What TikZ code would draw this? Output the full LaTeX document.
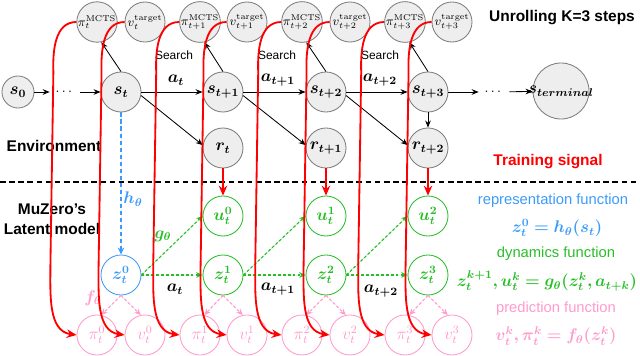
\documentclass[tikz,border=0pt]{standalone}
\usepackage{amsmath,bm}
\usepackage[no-math]{fontspec}
\setmainfont{Liberation Sans}
\usetikzlibrary{arrows.meta}
\definecolor{grn}{RGB}{40,190,40}
\definecolor{blu}{RGB}{60,155,250}
\definecolor{pnk}{RGB}{255,155,205}
\definecolor{circgray}{RGB}{238,238,238}
\definecolor{circline}{RGB}{125,125,125}
\begin{document}
\begin{tikzpicture}[x=0.025cm,y=-0.025cm,
  env/.style={circle,draw=circline,fill=circgray,line width=0.6pt,minimum size=1cm,inner sep=0pt,font=\large},
  topc/.style={env,font=\small},
  lat/.style={circle,draw=grn,fill=white,text=grn,line width=0.6pt,minimum size=1cm,inner sep=0pt,font=\large},
  repc/.style={lat,draw=blu,text=blu},
  predc/.style={lat,draw=pnk,text=pnk},
  dotsn/.style={inner sep=0pt,minimum width=0.75cm,minimum height=0.5cm},
  arr/.style={-{Stealth[length=5pt,width=4pt]},line width=0.6pt},
  sig/.style={-{Stealth[length=7pt,width=6pt]},red,line width=1.3pt},
  garr/.style={-{Stealth[length=4.5pt,width=4pt]},draw=grn,fill=grn,line width=0.8pt,dash pattern=on 2pt off 1.5pt},
  parr/.style={-{Stealth[length=4.5pt,width=4pt]},draw=pnk,fill=pnk,line width=0.8pt,dash pattern=on 2pt off 1.5pt},
  barr/.style={-{Stealth[length=5pt,width=4.5pt]},draw=blu,fill=blu,line width=1.1pt,dash pattern=on 3pt off 2pt},
  lbl/.style={font=\fontsize{11}{13}\selectfont\bfseries},
  srch/.style={font=\fontsize{8.5}{10}\selectfont},
  fn/.style={font=\fontsize{10.5}{12}\selectfont},
]
\useasboundingbox (0,0) rectangle (640,356);

% top row
\node[topc] (tp0) at (97,22)  {$\pi_t^{\mathrm{MCTS}}$};
\node[topc] (tv0) at (145,22) {$v_t^{\mathrm{target}}$};
\node[topc] (tp1) at (200,22) {$\pi_{t+1}^{\mathrm{MCTS}}$};
\node[topc] (tv1) at (247,22) {$v_{t+1}^{\mathrm{target}}$};
\node[topc] (tp2) at (302,22) {$\pi_{t+2}^{\mathrm{MCTS}}$};
\node[topc] (tv2) at (350,22) {$v_{t+2}^{\mathrm{target}}$};
\node[topc] (tp3) at (405,22) {$\pi_{t+3}^{\mathrm{MCTS}}$};
\node[topc] (tv3) at (452,22) {$v_{t+3}^{\mathrm{target}}$};

% environment row
\node[env,minimum size=0.8cm] (s0) at (18,92) {$\boldsymbol{s_0}$};
\node[dotsn] (d1) at (65,92) {$\dots$};
\node[env] (st) at (121,92) {$\boldsymbol{s_t}$};
\node[env] (s1) at (223,92) {$\boldsymbol{s_{t+1}}$};
\node[env] (s2) at (326,92) {$\boldsymbol{s_{t+2}}$};
\node[env] (s3) at (428,92) {$\boldsymbol{s_{t+3}}$};
\node[dotsn] (d2) at (494,92) {$\dots$};
\node[env,minimum size=1.4cm] (sT) at (561,91) {\makebox[0pt]{$\boldsymbol{s_{terminal}}$}};

\node[env] (r0) at (223,148) {$\boldsymbol{r_t}$};
\node[env] (r1) at (326,148) {$\boldsymbol{r_{t+1}}$};
\node[env] (r2) at (428,148) {$\boldsymbol{r_{t+2}}$};

% environment arrows
\draw[arr] (s0) -- (d1);
\draw[arr] (d1) -- (st);
\draw[arr] (st) -- (s1);
\draw[arr] (s1) -- (s2);
\draw[arr] (s2) -- (s3);
\draw[arr] (s3) -- (d2);
\draw[arr] (d2) -- (sT);
\draw[arr] (st.north) -- (tp0.-78);
\draw[arr] (s1.north) -- (tp1.-78);
\draw[arr] (s2.north) -- (tp2.-78);
\draw[arr] (s3.north) -- (tp3.-78);
\draw[arr] (st.-10) -- (r0.172);
\draw[arr] (s1.-10) -- (r1.172);
\draw[arr] (s2.-10) -- (r2.172);
\draw[arr] (s3) -- (r2);

\node[srch] (se0) at (174,55) {Search};
\node[srch] (se1) at (277,55) {Search};
\node[srch] (se2) at (380,55) {Search};
\node[font=\large] (a0) at (176,80) {$\boldsymbol{a_t}$};
\node[font=\large] (a1) at (278,80) {$\boldsymbol{a_{t+1}}$};
\node[font=\large] (a2) at (380,80) {$\boldsymbol{a_{t+2}}$};

\node[lbl] (envl) at (54,146) {Environment};
\node[lbl] (unr) at (562,18) {Unrolling K=3 steps};
\node[lbl,text=red] (trs) at (548,162) {Training signal};

% separator
\coordinate (sepl) at (0,182);
\coordinate (sepr) at (640,182);
\draw[line width=1pt,dash pattern=on 4pt off 2.5pt] (sepl) -- (sepr);

\node[lbl] (mz1) at (52,209) {MuZero's};
\node[lbl] (mz2) at (52,229) {Latent model};

% latent model
\node[lat] (u0) at (223,216) {$\boldsymbol{u_t^0}$};
\node[lat] (u1) at (326,216) {$\boldsymbol{u_t^1}$};
\node[lat] (u2) at (428,216) {$\boldsymbol{u_t^2}$};
\node[repc] (z0) at (121,275) {$\boldsymbol{z_t^0}$};
\node[lat] (z1) at (223,275) {$\boldsymbol{z_t^1}$};
\node[lat] (z2) at (326,275) {$\boldsymbol{z_t^2}$};
\node[lat] (z3) at (428,275) {$\boldsymbol{z_t^3}$};

\node[predc] (bp0) at (97,335)  {$\pi_t^0$};
\node[predc] (bv0) at (145,335) {$v_t^0$};
\node[predc] (bp1) at (200,335) {$\pi_t^1$};
\node[predc] (bv1) at (247,335) {$v_t^1$};
\node[predc] (bp2) at (302,335) {$\pi_t^2$};
\node[predc] (bv2) at (350,335) {$v_t^2$};
\node[predc] (bp3) at (405,335) {$\pi_t^3$};
\node[predc] (bv3) at (452,335) {$v_t^3$};

\draw[barr] (st) -- (z0);
\node[text=blu,font=\large] (hl) at (133,199) {$\boldsymbol{h_\theta}$};

\draw[garr] (z0.east) -- (u0.west);
\draw[garr] (z0.east) -- (z1.west);
\draw[garr] (z1.east) -- (u1.west);
\draw[garr] (z1.east) -- (z2.west);
\draw[garr] (z2.east) -- (u2.west);
\draw[garr] (z2.east) -- (z3.west);
\node[text=grn,font=\large] (gl) at (163,236) {$\boldsymbol{g_\theta}$};

\node[font=\large] (b0) at (175,289) {$\boldsymbol{a_t}$};
\node[font=\large] (b1) at (278,289) {$\boldsymbol{a_{t+1}}$};
\node[font=\large] (b2) at (381,291) {$\boldsymbol{a_{t+2}}$};

\foreach \z/\p/\v in {z0/bp0/bv0, z1/bp1/bv1, z2/bp2/bv2, z3/bp3/bv3}{
  \draw[parr] (\z.south) -- (\p.78);
  \draw[parr] (\z.south) -- (\v.102);
}
\node[text=pnk,font=\large] (fl) at (93,298) {$\boldsymbol{f_\theta}$};

% training signal
\draw[sig] (r0) -- (u0);
\draw[sig] (r1) -- (u1);
\draw[sig] (r2) -- (u2);
\foreach \a/\b in {tp0/bp0, tv0/bv0, tp1/bp1, tv1/bv1, tp2/bp2, tv2/bv2, tp3/bp3, tv3/bv3}{
  \draw[sig] (\a.west) to[out=180,in=92] ++(-23,50) -- ++(-3,195) to[out=-90,in=172] (\b.west);
}

% right side legend
\node[fn,text=blu] (rf) at (553,201) {representation function};
\node[text=blu,font=\large] (re) at (557,228) {$\boldsymbol{z_t^0 = h_\theta(s_t)}$};
\node[fn,text=grn] (df) at (556,254) {dynamics function};
\node[text=grn,font=\large] (de) at (547,281) {$\boldsymbol{z_t^{k+1}, u_t^k = g_\theta(z_t^k, a_{t+k})}$};
\node[fn,text=pnk] (pf) at (556,309) {prediction function};
\node[text=pnk,font=\large] (pe) at (556,336) {$\boldsymbol{v_t^k, \pi_t^k = f_\theta(z_t^k)}$};
\end{tikzpicture}
\end{document}
